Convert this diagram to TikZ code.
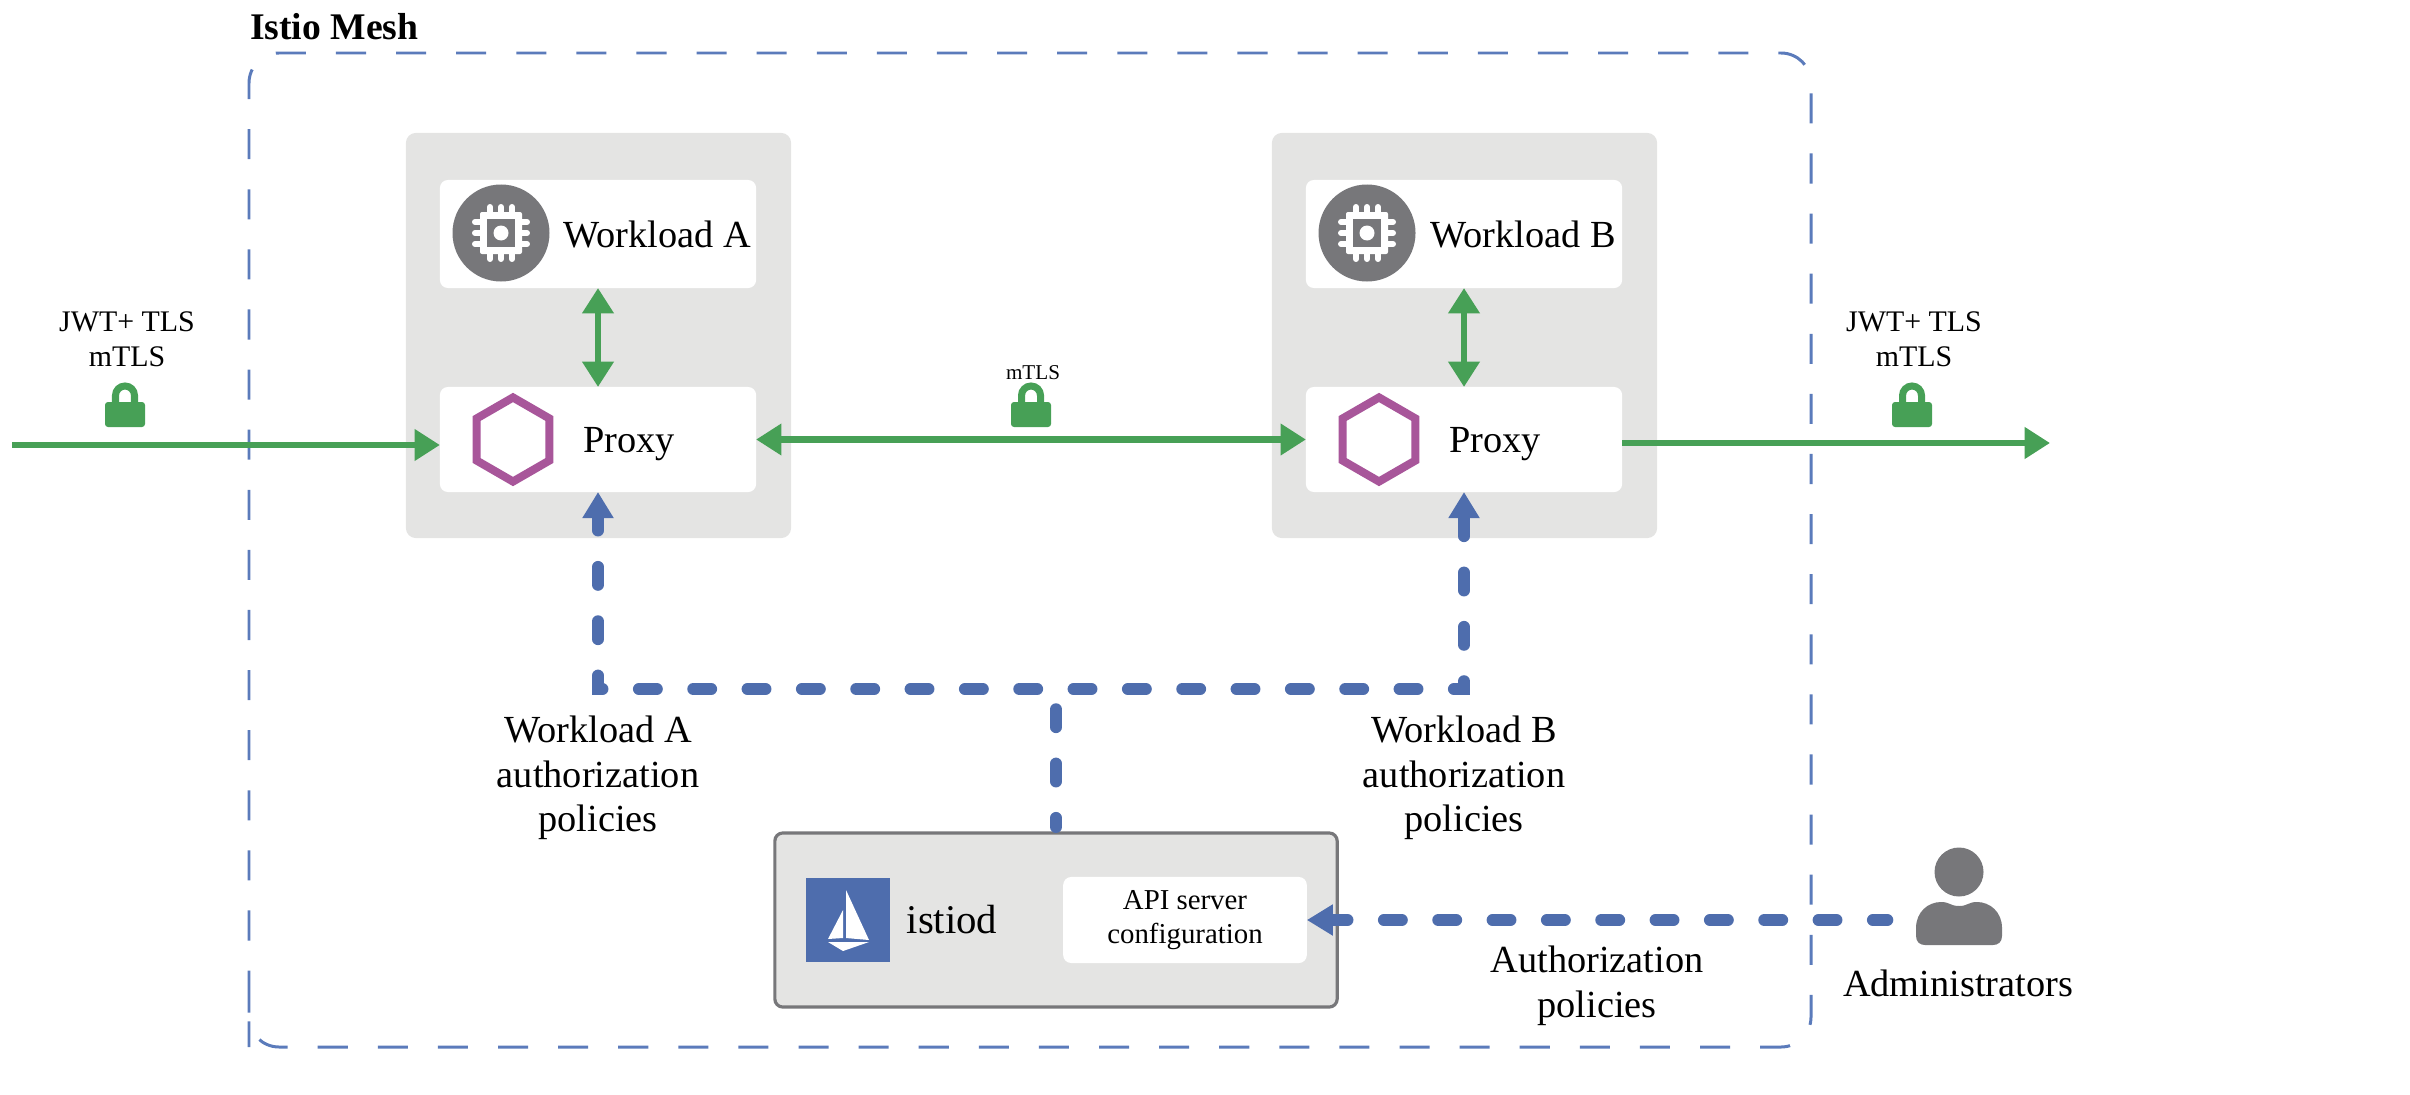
\documentclass[tikz,border=0pt]{standalone}
\usepackage{fontspec}
\setmainfont{Liberation Serif}
\usetikzlibrary{arrows.meta,positioning,shapes.geometric}
\definecolor{flowgreen}{HTML}{47A056}
\definecolor{policyblue}{HTML}{4E6DAD}
\definecolor{meshblue}{HTML}{5B7BBB}
\definecolor{panelgray}{HTML}{E4E4E3}
\definecolor{icongray}{HTML}{77777A}
\definecolor{proxypurple}{HTML}{A8569A}
\tikzset{
    every node/.style={inner sep=0pt, outer sep=0pt},
    panel/.style={fill=panelgray, rounded corners=0.1cm, minimum width=3.85cm, minimum height=4.05cm},
    whitebox/.style={fill=white, rounded corners=0.08cm, minimum width=3.16cm},
    txtbig/.style={font=\fontsize{10.9}{12.7}\selectfont, align=center},
    txtmid/.style={font=\fontsize{8.5}{10}\selectfont, align=center},
    tlsflow/.style={line width=1.95pt, flowgreen, -{Triangle[length=7.2pt,width=8.6pt]}},
    tlsboth/.style={line width=1.95pt, flowgreen, {Triangle[length=7.2pt,width=8.6pt]}-{Triangle[length=7.2pt,width=8.6pt]}},
    policyline/.style={line width=3.4pt, policyblue, line cap=round, dash pattern=on 5.1pt off 10.35pt}
}
\newcommand{\pxtip}{Triangle[length=7.4pt,width=8.4pt]}

\begin{document}
\begin{tikzpicture}[x=0.01cm,y=-0.01cm]
    \useasboundingbox (0,0) rectangle (2410,1094);

    % Draw mesh outline.
    \draw[meshblue, line width=0.85pt, rounded corners=0.3cm, dash pattern=on 8.55pt off 8.54pt, dash phase=3.88pt]
        (249,1017) -- (249,53) -- (1811,53) -- (1811,1047) -- (249,1047) -- cycle;
    \node[anchor=base west, font=\fontsize{10.7}{12}\selectfont\bfseries] (meshname) at (250,40) {Istio Mesh};

    % Draw the two workload panels.
    \foreach \W/\X in {A/0,B/866} {
        \node[panel] (panel\W) at ({598.5+\X},335.5) {};
        \node[whitebox, minimum height=1.08cm] (work\W) at ({598+\X},234) {};
        \node[whitebox, minimum height=1.05cm] (proxy\W) at ({598+\X},439.5) {};
        \fill[icongray] ({501+\X},233) circle (48.5);
        \node[anchor=base, txtbig] (worklabel\W) at ({657+\X},248) {Workload \W};
        \node[anchor=base, txtbig] (proxylabel\W) at ({629+\X},452) {Proxy};
        \node[draw=proxypurple, line width=2.3pt, regular polygon, regular polygon sides=6,
            shape border rotate=30, minimum size=0.84cm] (hex\W) at ({513+\X},439.5) {};
        % Chip inside the circle.
        \foreach \P in {-11,0,11} {
            \draw[white, line width=1.7pt, line cap=round] ({501+\X+\P},207) -- ({501+\X+\P},259);
            \draw[white, line width=1.7pt, line cap=round] ({475+\X},233+\P) -- ({527+\X},233+\P);
        }
        \fill[white, rounded corners=0.02cm] ({480+\X},212) rectangle ({522+\X},254);
        \fill[icongray] ({487+\X},219) rectangle ({515+\X},247);
        \fill[white] ({501+\X},233) circle (7.5);
        \draw[tlsboth] (work\W.south) -- (proxy\W.north);
    }

    % Draw istiod box.
    \node[draw=icongray, line width=0.9pt, fill=panelgray, rounded corners=0.08cm,
        minimum width=5.62cm, minimum height=1.74cm] (istiod) at (1056,920) {};
    \node[fill=policyblue, minimum width=0.84cm, minimum height=0.84cm] (sailbox) at (848,920) {};
    \fill[white] (846,890) -- (869,940) -- (846,938) -- cycle;
    \fill[white] (843,910) -- (843,938) -- (828,939) -- cycle;
    \fill[white] (828,942) -- (869,942) -- (843,951) -- cycle;
    \node[anchor=base, font=\fontsize{11.6}{13}\selectfont] (istiodlabel) at (952,933) {istiod};
    \node[whitebox, minimum width=2.435cm, minimum height=0.86cm, font=\fontsize{8.2}{9.6}\selectfont, align=center]
        (apiserver) at (1185,920) {API server\\configuration};

    % Draw administrators.
    \fill[icongray] (1959,872) circle (24.5);
    \fill[icongray] (1916,936) -- (1916,928) .. controls (1916,912) and (1928,902) .. (1941,902)
        .. controls (1950,902) and (1950,906) .. (1959,906) .. controls (1968,906) and (1968,902) .. (1977,902)
        .. controls (1990,902) and (2002,912) .. (2002,928) -- (2002,936)
        .. controls (2002,942) and (1998,945) .. (1993,945) -- (1925,945)
        .. controls (1920,945) and (1916,942) .. (1916,936) -- cycle;
    \node[txtbig] (admins) at (1958,983) {Administrators};
    \coordinate (adminin) at (1887.3,920);

    % Draw green flows.
    \coordinate (inleft) at (12,445);
    \coordinate (outright) at (2050,443);
    \draw[tlsflow] (inleft) -- (inleft -| proxyA.west);
    \draw[tlsboth] (proxyA.east) -- (proxyB.west);
    \draw[tlsflow] (outright -| proxyB.east) -- (outright);

    % Draw locks.
    \foreach \L in {125,1031,1912} {
        \draw[flowgreen, line width=2pt] ({\L-9.5},405) -- ({\L-9.5},395.5) arc (180:360:9.5) -- ({\L+9.5},405);
        \fill[flowgreen, rounded corners=0.03cm] ({\L-20},402) rectangle ({\L+20},427);
    }
    \node[txtmid] (tlsleft) at (127,339) {JWT+ TLS\\mTLS};
    \node[txtmid] (tlsright) at (1914,339) {JWT+ TLS\\mTLS};
    \node[font=\fontsize{6}{7}\selectfont] (tlsmid) at (1033,373) {mTLS};

    % Draw blue policy lines.
    \coordinate (busline) at (1056,689);
    \draw[policyline, dash phase=1.1pt, {\pxtip}-{\pxtip}] (proxyA.south) -- (proxyA.south |- busline)
        -- (proxyB.south |- busline) -- (proxyB.south);
    \draw[policyline, dash phase=9.7pt, shorten >=1.7pt] (busline) -- (busline |- istiod.north);
    \draw[policyline, dash phase=1pt, -{\pxtip}] (adminin) -- (apiserver.east);

    \node[txtbig] (policyA) at (598,778) {Workload A\\authorization\\policies};
    \node[txtbig] (policyB) at (1464,778) {Workload B\\authorization\\policies};
    \node[txtbig] (policyadmin) at (1597,986) {Authorization\\policies};
\end{tikzpicture}
\end{document}
